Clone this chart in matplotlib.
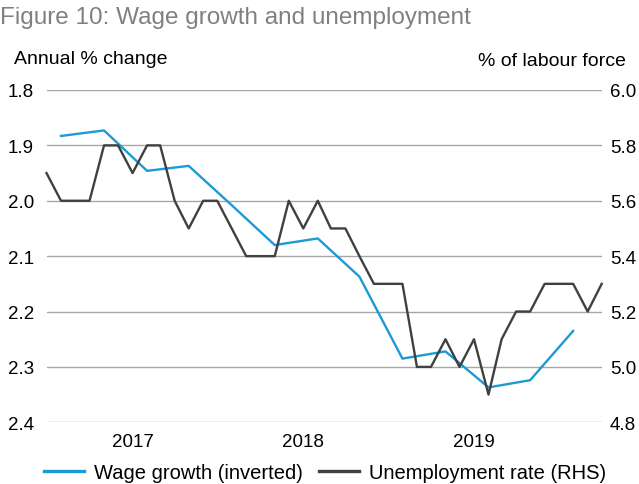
import matplotlib
matplotlib.use("Agg")
import matplotlib.pyplot as plt
import pandas as pd
from matplotlib.lines import Line2D

plt.rcParams['font.family'] = ['Liberation Sans', 'DejaVu Sans']

# ---- data ----
unemp_months = pd.date_range('2016-07-01', periods=40, freq='MS')
unemp_rate = [5.7, 5.6, 5.6, 5.6, 5.8, 5.8, 5.7, 5.8, 5.8, 5.6,
              5.5, 5.6, 5.6, 5.5, 5.4, 5.4, 5.4, 5.6, 5.5, 5.6,
              5.5, 5.5, 5.4, 5.3, 5.3, 5.3, 5.0, 5.0, 5.1, 5.0,
              5.1, 4.9, 5.1, 5.2, 5.2, 5.3, 5.3, 5.3, 5.2, 5.3]
wage_months = pd.date_range('2016-08-01', periods=13, freq='3MS')
wage_growth = [1.883, 1.873, 1.946, 1.937, 2.008, 2.080, 2.068,
               2.137, 2.285, 2.272, 2.337, 2.324, 2.235]
year_ticks = pd.to_datetime(['2017-01-01', '2018-01-01', '2019-01-01'])
year_labels = ['2017', '2018', '2019']
left_ticks = [1.8, 1.9, 2.0, 2.1, 2.2, 2.3, 2.4]
right_ticks = [4.8, 5.0, 5.2, 5.4, 5.6, 5.8, 6.0]

BLUE = '#1b9ad6'
DARK = '#404040'
GRID = '#a6a6a6'

W, H = 639, 485
fig = plt.figure(figsize=(W / 100, H / 100), dpi=100)
ax = fig.add_axes([46.5 / W, 1 - 423.3 / H, (601.7 - 46.5) / W, (423.3 - 91) / H])
ax2 = ax.twinx()

ax.plot(wage_months, wage_growth, color=BLUE, lw=1.7, zorder=3, clip_on=False)
ax2.plot(unemp_months, unemp_rate, color=DARK, lw=1.7, zorder=3, clip_on=False)

ax.set_xlim(unemp_months[0], unemp_months[-1])
ax.set_ylim(2.4, 1.8)
ax2.set_ylim(4.8, 6.0)
ax.set_yticks(left_ticks)
ax.set_yticklabels([f'{v:.1f}' for v in left_ticks])
ax2.set_yticks(right_ticks)
ax2.set_yticklabels([f'{v:.1f}' for v in right_ticks])
ax.set_xticks(year_ticks)
ax.set_xticklabels(year_labels)

ax.grid(axis='y', color=GRID, lw=1.0)
ax.set_axisbelow(True)
for a in (ax, ax2):
    for s in a.spines.values():
        s.set_visible(False)
ax.tick_params(axis='both', length=0, labelsize=13.5, colors='black')
ax.tick_params(axis='y', pad=9)
ax.tick_params(axis='x', pad=8)
ax2.tick_params(axis='y', length=0, labelsize=13.5, pad=6)
ax2.set_zorder(ax.get_zorder() + 1)
ax2.patch.set_visible(False)

fig.text(0.0, 1 - 7 / H, 'Figure 10: Wage growth and unemployment', color='#808080',
         fontsize=17.5, va='top', ha='left')
fig.text(14 / W, 1 - 59 / H, 'Annual % change', fontsize=14, va='center', ha='left')
fig.text(626 / W, 1 - 62 / H, '% of labour force', fontsize=14, va='center', ha='right')

handles = [Line2D([], [], color=BLUE, lw=2.4), Line2D([], [], color=DARK, lw=2.4)]
fig.legend(handles, ['Wage growth (inverted)', 'Unemployment rate (RHS)'],
           loc='center', bbox_to_anchor=(325 / W, 1 - 473.5 / H), ncol=2, frameon=False,
           fontsize=14.5, handlelength=2.0, handletextpad=0.5, columnspacing=0.8,
           borderpad=0, borderaxespad=0)

fig.savefig('out.png', dpi=100)
